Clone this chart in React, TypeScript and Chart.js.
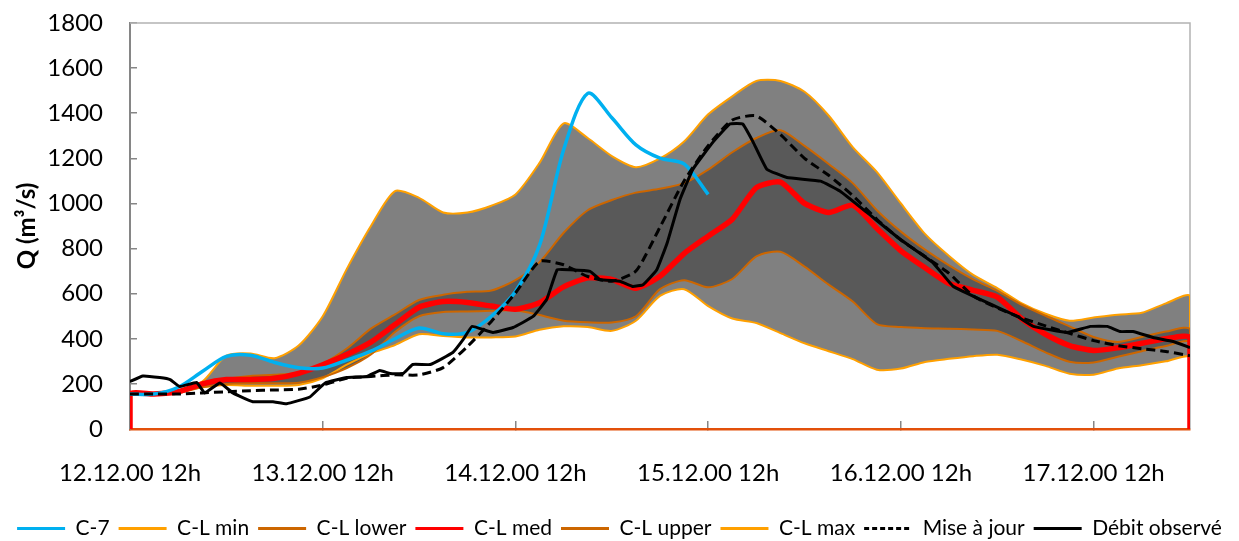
import React, { useEffect, useRef } from "react";
import { Chart, registerables } from "chart.js";

Chart.register(...registerables);

// Time axis: hours after 12.12.00 12h (3-hour steps)
const hours = [0, 3, 6, 9, 12, 15, 18, 21, 24, 27, 30, 33, 36, 39, 42, 45, 48, 51, 54, 57, 60, 63, 66, 69, 72, 75, 78, 81, 84, 87, 90, 93, 96, 99, 102, 105, 108, 111, 114, 117, 120, 123, 126, 129, 132];
const tickHours = [0, 24, 48, 72, 96, 120];
const tickLabels = ["12.12.00 12h", "13.12.00 12h", "14.12.00 12h", "15.12.00 12h", "16.12.00 12h", "17.12.00 12h"];

const c7 = [155, 155, 185, 255, 322, 327, 295, 272, 270, 305, 345, 400, 448, 422, 428, 500, 610, 815, 1238, 1488, 1380, 1260, 1201, 1175, 1040];
const clMin = [155, 155, 165, 185, 195, 192, 192, 195, 225, 285, 335, 372, 420, 412, 406, 406, 410, 440, 455, 452, 435, 480, 590, 620, 545, 490, 470, 425, 380, 345, 310, 263, 268, 297, 311, 323, 329, 308, 280, 245, 241, 268, 283, 300, 317];
const clLower = [155, 155, 160, 185, 200, 203, 203, 205, 230, 270, 330, 430, 500, 519, 521, 524, 526, 505, 480, 473, 472, 500, 620, 660, 628, 665, 765, 786, 720, 640, 565, 465, 452, 447, 445, 441, 435, 390, 340, 298, 295, 320, 345, 368, 383];
const clMed = [155, 155, 165, 200, 219, 219, 225, 247, 285, 330, 385, 463, 540, 565, 561, 545, 531, 560, 630, 670, 663, 624, 677, 778, 855, 930, 1070, 1095, 1000, 960, 992, 890, 790, 715, 645, 615, 585, 490, 420, 370, 348, 360, 380, 400, 405];
const clUpper = [155, 155, 162, 195, 222, 235, 240, 250, 290, 357, 445, 508, 572, 595, 608, 614, 660, 740, 870, 970, 1015, 1048, 1065, 1090, 1150, 1227, 1290, 1325, 1255, 1175, 1090, 970, 875, 795, 725, 663, 612, 552, 502, 455, 408, 386, 408, 432, 441];
const clMax = [155, 155, 165, 210, 325, 335, 314, 370, 500, 710, 900, 1055, 1025, 960, 960, 990, 1040, 1180, 1355, 1290, 1210, 1161, 1200, 1275, 1395, 1475, 1543, 1543, 1495, 1390, 1250, 1140, 1000, 865, 767, 683, 625, 558, 511, 480, 494, 507, 515, 557, 588];
const miseAJour = [155, 155, 155, 160, 165, 170, 173, 176, 195, 225, 233, 240, 240, 272, 365, 477, 603, 743, 728, 676, 655, 700, 895, 1100, 1256, 1370, 1388, 1305, 1200, 1125, 1035, 930, 838, 765, 690, 590, 537, 493, 457, 424, 392, 370, 356, 344, 325];

// Observed discharge, sampled where the hydrograph changes direction
const obsHours = [0, 1.6, 3.7, 5, 6.2, 8.3, 9.3, 11.2, 12.8, 15.3, 17.8, 19.5, 22.4, 24.3, 27, 29.5, 31.1, 32.4, 34, 35.2, 37.4, 40.2, 41.5, 42.6, 45.2, 47.7, 50.2, 51.9, 53.2, 54.8, 57.3, 58.5, 61, 62.6, 63.9, 65.6, 66.9, 68.5, 70.1, 72.6, 74.7, 76.3, 77.6, 79.3, 81.8, 86, 88.4, 91.8, 95.9, 100, 102.5, 106.7, 110.5, 112.5, 116.7, 119.6, 121.7, 123.3, 124.9, 127.4, 129.9, 132];
const debitObserve = [210, 235, 228, 219, 188, 206, 160, 204, 160, 121, 121, 112, 142, 204, 228, 233, 259, 246, 246, 286, 286, 339, 397, 455, 428, 450, 499, 575, 706, 706, 699, 663, 655, 632, 640, 706, 826, 1019, 1152, 1272, 1352, 1352, 1272, 1152, 1115, 1099, 1055, 959, 841, 737, 633, 561, 499, 455, 428, 455, 455, 432, 432, 406, 388, 361];

const open = (vals: number[]) => vals.map((v, i) => ({ x: hours[i], y: v }));
// the C-L series drop to zero at both ends (area-chart baseline)
const closed = (vals: number[]) => [
  { x: hours[0], y: 0 },
  ...vals.map((v, i) => ({ x: hours[i], y: v })),
  { x: hours[vals.length - 1], y: 0 },
];

const frame = {
  id: "frame",
  beforeDatasetsDraw(chart: any) {
    const { ctx, chartArea: a } = chart;
    ctx.save();
    ctx.strokeStyle = "#b3b3b3";
    ctx.lineWidth = 1.5;
    ctx.beginPath();
    ctx.moveTo(a.left, a.top);
    ctx.lineTo(a.right, a.top);
    ctx.lineTo(a.right, a.bottom);
    ctx.stroke();
    ctx.restore();
  },
};

export default function App() {
  const ref = useRef<HTMLCanvasElement>(null);

  useEffect(() => {
    if (!ref.current) return;
    Chart.defaults.font.family = "Lato";
    const base = { pointRadius: 0, pointStyle: "line", pointHoverRadius: 0 };
    const chart = new Chart(ref.current, {
      type: "line",
      data: {
        datasets: [
          { ...base, label: "C-7", data: open(c7), borderColor: "#00b0f0", borderWidth: 3.5, tension: 0.3, fill: false, order: 3 },
          { ...base, label: "C-L min", data: closed(clMin), borderColor: "#ffa000", borderWidth: 2, tension: 0.25, fill: false, order: 6 },
          { ...base, label: "C-L lower", data: closed(clLower), borderColor: "#cc6600", borderWidth: 2, tension: 0.25, fill: false, order: 5 },
          { ...base, label: "C-L med", data: closed(clMed), borderColor: "#ff0000", borderWidth: 5.5, tension: 0.2, fill: false, order: 4 },
          { ...base, label: "C-L upper", data: closed(clUpper), borderColor: "#cc6600", borderWidth: 2, tension: 0.25, fill: 2, backgroundColor: "#595959", order: 7 },
          { ...base, label: "C-L max", data: closed(clMax), borderColor: "#ffa000", borderWidth: 2, tension: 0.25, fill: 1, backgroundColor: "#808080", order: 8 },
          { ...base, label: "Mise à jour", data: open(miseAJour), borderColor: "#000000", borderWidth: 3, borderDash: [9, 5], tension: 0.2, fill: false, order: 2 },
          {
            ...base,
            label: "Débit observé",
            data: debitObserve.map((v, i) => ({ x: obsHours[i], y: v })),
            borderColor: "#000000",
            borderWidth: 3,
            tension: 0.1,
            fill: false,
            order: 1,
          },
        ] as any,
      },
      options: {
        responsive: false,
        animation: false,
        events: [],
        layout: { padding: { top: 23, right: 0, left: 0, bottom: -8 } },
        plugins: {
          tooltip: { enabled: false },
          legend: {
            position: "bottom",
            labels: {
              usePointStyle: true,
              pointStyleWidth: 48,
              boxHeight: 21,
              padding: 9,
              color: "#000",
              font: { size: 21 },
              sort: (a: any, b: any) => a.datasetIndex - b.datasetIndex,
              generateLabels: (c: any) => {
                const items = (Chart.defaults.plugins.legend.labels as any).generateLabels(c);
                items.forEach((it: any) => {
                  it.lineWidth = 3;
                  it.fillStyle = it.strokeStyle;
                  it.lineDash = it.text === "Mise à jour" ? [5, 3] : [];
                });
                return items;
              },
            },
          },
        },
        scales: {
          x: {
            type: "linear",
            min: 0,
            max: 132,
            afterBuildTicks: (s: any) => {
              s.ticks = tickHours.map((v) => ({ value: v }));
            },
            afterFit: (s: any) => {
              s.height = 80;
            },
            grid: { drawOnChartArea: false, drawTicks: true, tickLength: -8, color: "#868686", lineWidth: 1.5 },
            border: { color: "#e2500a", width: 2.5 },
            ticks: {
              padding: 38,
              color: "#000",
              font: { size: 24 },
              maxRotation: 0,
              autoSkip: false,
              callback: (_v: any, i: number) => tickLabels[i],
            },
          },
          y: {
            min: 0,
            max: 1800,
            afterFit: (s: any) => {
              s.width = 130;
              s.paddingTop = 0;
              s.paddingBottom = 0;
            },
            grid: { drawOnChartArea: false, drawTicks: true, tickLength: -7, color: "#868686", lineWidth: 1.5 },
            border: { color: "#868686", width: 2 },
            ticks: { stepSize: 200, padding: 34, color: "#000", font: { size: 24 }, callback: (v: any) => String(v) },
            title: {
              display: true,
              text: "Q (m³/s)",
              color: "#000",
              font: { size: 24, weight: "bold" },
              padding: { top: 13, bottom: 0 },
            },
          },
          // empty right-hand spacer (blank margin right of the plot)
          yRight: {
            position: "right",
            display: true,
            grid: { display: false },
            border: { display: false },
            ticks: { display: false },
            afterFit: (s: any) => {
              s.width = 49;
              s.paddingTop = 0;
              s.paddingBottom = 0;
            },
          },
        },
      } as any,
      plugins: [frame],
    });
    return () => chart.destroy();
  }, []);

  return (
    <canvas
      ref={ref}
      width={1239}
      height={541}
      style={{ position: "fixed", left: 0, top: 0, width: 1239, height: 541, display: "block", background: "#fff" }}
    />
  );
}
